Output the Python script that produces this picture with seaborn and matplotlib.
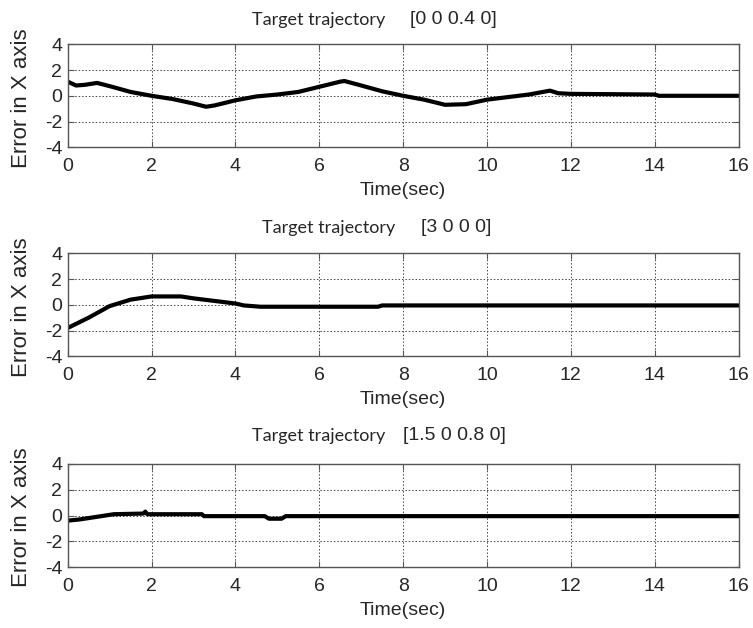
import numpy as np
import pandas as pd
import matplotlib
matplotlib.use("Agg")
import matplotlib.pyplot as plt
import seaborn as sns

sns.set_theme(style="white")
plt.rcParams['font.family'] = ['Liberation Sans', 'DejaVu Sans']

title_left = "Target trajectory"
title_right = ["[0 0 0.4 0]", "[3 0 0 0]", "[1.5 0 0.8 0]"]

t1 = [0, 0.2, 0.4, 0.7, 1.0, 1.5, 2.0, 2.5, 3.0, 3.3, 3.5, 4.0, 4.5, 5.0, 5.5, 6.0, 6.5, 6.6,
      7.0, 7.5, 8.0, 8.5, 9.0, 9.5, 10.0, 10.5, 11.0, 11.5, 11.7, 12.0, 14.0, 14.1, 16.0]
e1 = [1.1, 0.8, 0.85, 1.0, 0.75, 0.3, 0.0, -0.25, -0.6, -0.85, -0.75, -0.35, -0.05, 0.1, 0.3, 0.7, 1.1, 1.15,
      0.8, 0.35, 0.0, -0.3, -0.7, -0.65, -0.3, -0.1, 0.1, 0.4, 0.2, 0.15, 0.1, 0.0, 0.0]

t2 = [0, 0.5, 1.0, 1.5, 2.0, 2.7, 3.0, 3.5, 4.0, 4.2, 4.6, 7.4, 7.5, 16.0]
e2 = [-1.8, -1.0, -0.1, 0.4, 0.65, 0.65, 0.5, 0.3, 0.1, -0.05, -0.15, -0.15, -0.05, -0.05]

t3 = [0, 0.3, 0.5, 0.8, 1.1, 1.8, 1.85, 1.9, 3.2, 3.25, 4.7, 4.8, 5.1, 5.2, 16.0]
e3 = [-0.4, -0.3, -0.2, -0.05, 0.1, 0.15, 0.3, 0.1, 0.1, -0.05, -0.05, -0.25, -0.25, -0.05, -0.05]

xticks = [0, 2, 4, 6, 8, 10, 12, 14, 16]
yticks = [-4, -2, 0, 2, 4]

W, H = 753, 628
fig = plt.figure(figsize=(W / 100, H / 100), dpi=100)

left, right = 67.7, 738.6
tops = [44.3, 253.3, 464.0]
height = 103.0
title_y = [20, 228, 436]
title_lx = [252, 262, 252]
title_rx = [410, 421, 403]

series = [(t1, e1), (t2, e2), (t3, e3)]
for i, (t, e) in enumerate(series):
    top = tops[i]
    ax = fig.add_axes([left / W, 1 - (top + height) / H, (right - left) / W, height / H])
    df = pd.DataFrame({"t": t, "e": e})
    sns.lineplot(data=df, x="t", y="e", ax=ax, color="black", lw=3.0)
    ax.set_xlim(0, 16)
    ax.set_ylim(-4, 4)
    ax.set_xticks(xticks)
    ax.set_yticks(yticks)
    ax.set_xticklabels([str(v) for v in xticks], fontsize=14)
    ax.set_yticklabels([str(v) for v in yticks], fontsize=14)
    ax.tick_params(direction="in", length=4, width=0.8, color="#555555",
                   top=True, right=True, bottom=True, left=True)
    ax.tick_params(axis="x", pad=8)
    ax.tick_params(axis="y", pad=4)
    for s in ax.spines.values():
        s.set_color("#555555")
        s.set_linewidth(1.0)
    ax.grid(True, linestyle=(0, (1.5, 2)), color="#444444", linewidth=0.7)
    ax.set_xlabel("Time(sec)", fontsize=14, labelpad=5)
    ax.set_ylabel("Error in X axis", fontsize=16, labelpad=0)
    ax.yaxis.set_label_coords((31.5 - left) / (right - left), 0.48)
    fig.text(title_lx[i] / W, 1 - title_y[i] / H, title_left, fontsize=13, ha="left", va="center",
             family=['Lato', 'DejaVu Sans'])
    fig.text(title_rx[i] / W, 1 - title_y[i] / H, title_right[i], fontsize=14, ha="left", va="center")

fig.savefig("out.png", dpi=100)
